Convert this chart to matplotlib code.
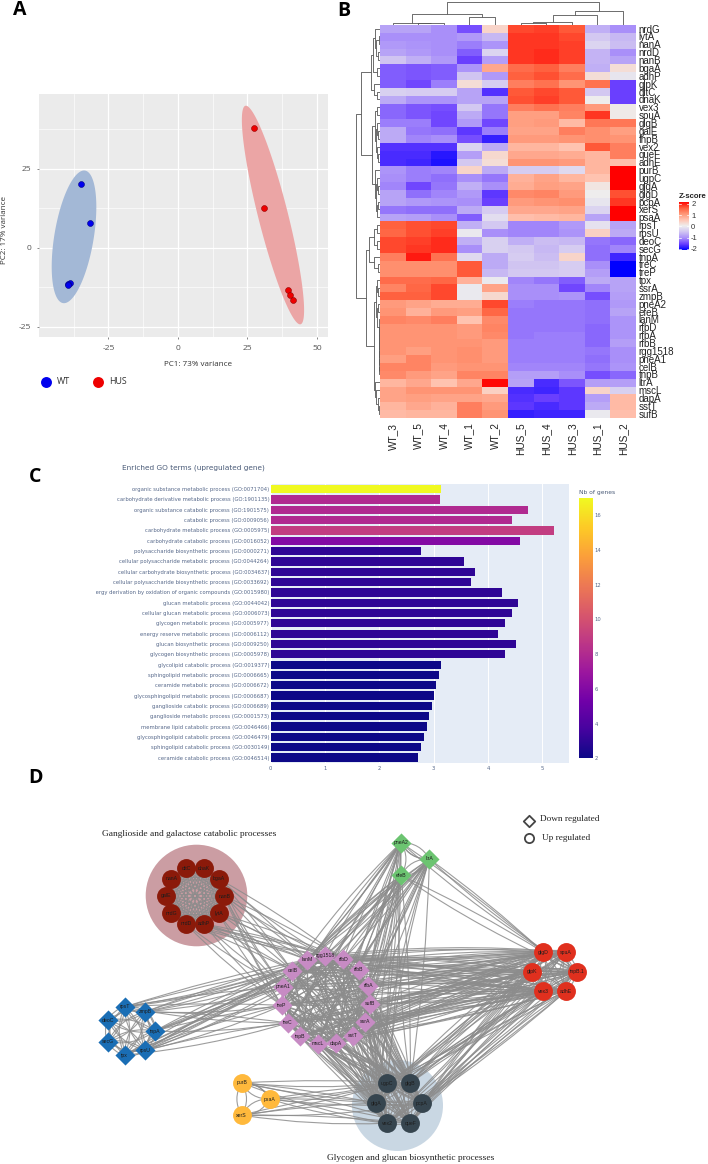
import numpy as np
import matplotlib
matplotlib.use('Agg')
import matplotlib.pyplot as plt
from matplotlib.cm import ScalarMappable
from matplotlib.collections import PathCollection
from matplotlib.colors import LinearSegmentedColormap, Normalize
from matplotlib.path import Path
from matplotlib.transforms import Bbox, TransformedBbox

W, H = 708, 1164

#----------------------
# A: PCA
wt_x = [-35.0, -31.6, -39.0, -39.4, -39.7]
wt_y = [20.2, 7.8, -11.0, -11.5, -11.8]
hus_x = [27.3, 31.1, 39.7, 40.5, 41.4]
hus_y = [37.8, 12.6, -13.2, -14.9, -16.5]
# centre x, centre y, half width, half height, x at top as share of half width
wt_ellipse = [-37.4, 3.5, 8.03, 21.0, 0.45]
hus_ellipse = [34.2, 10.4, 11.2, 34.6, -0.87]

#----------------------
# B: heatmap
heat_cols = ['WT_3', 'WT_5', 'WT_4', 'WT_1', 'WT_2', 'HUS_5', 'HUS_4', 'HUS_3', 'HUS_1', 'HUS_2']
heat_rows = ['nrdG', 'lytA', 'nanA', 'nrdD', 'nanB', 'bgaA', 'adhP', 'glpK', 'dltC', 'dnaK',
             'vex3', 'spuA', 'glgB', 'galE', 'fnpB', 'vex2', 'queF', 'adhE', 'purB', 'ugpC',
             'glgA', 'glgD', 'pcpA', 'xerS', 'psaA', 'rpsT', 'rpsU', 'deoC', 'secG', 'tnpA',
             'treC', 'treP', 'tpx', 'ssrA', 'zmpB', 'pneA2', 'efeB', 'lanM', 'rfbD', 'rfbA',
             'rfbB', 'rgg1518', 'pneA1', 'celB', 'tnpB', 'ltrA', 'mscL', 'dapA', 'sstT', 'sufB']
zscores = [
    [-0.8, -0.8, -1, -1.4, 0.3, 1.6, 1.65, 1.5, -0.7, -1],
    [-1, -1, -1, -0.9, -0.6, 1.7, 1.7, 1.6, -0.45, -0.6],
    [-0.9, -0.95, -1, -1.1, -0.95, 1.7, 1.7, 1.65, -0.3, -0.55],
    [-0.8, -0.9, -1, -1.3, -0.3, 1.7, 1.75, 1.65, -0.65, -1],
    [-0.5, -0.7, -0.9, -1.5, -0.85, 1.7, 1.75, 1.65, -0.65, -0.8],
    [-1.3, -1.35, -1.3, -0.95, 0.8, 1.35, 1.45, 1.2, -0.7, 0.2],
    [-1.3, -1.35, -1.3, -0.5, -0.9, 1.45, 1.55, 1.35, 0.2, -0.1],
    [-1.3, -1.45, -1.1, 0.2, -0.4, 1.2, 1.3, 1.0, 1.3, -1.5],
    [-0.35, -0.4, -0.4, -0.8, -1.6, 1.5, 1.6, 1.5, -0.45, -1.5],
    [-0.75, -0.95, -0.95, -0.8, -0.8, 1.55, 1.65, 1.5, 0, -1.5],
    [-1.25, -1.35, -1.4, -0.45, -1.15, 1.2, 1.3, 1.2, 0.95, 0.05],
    [-1.25, -1.35, -1.45, -0.75, -1.15, 0.9, 0.9, 1.15, 1.7, 0.05],
    [-1.1, -1.1, -1.45, -0.9, -1.45, 0.9, 0.95, 0.6, 1.25, 1.25],
    [-0.75, -1.15, -1.2, -1.55, -1.1, 0.85, 0.85, 1.2, 1.05, 0.9],
    [-0.75, -1.05, -1.0, -1.4, -1.75, 0.95, 0.95, 1.0, 1.05, 1.0],
    [-1.6, -1.6, -1.6, -0.3, -0.75, 0.65, 0.65, 0.5, 1.5, 1.2],
    [-1.65, -1.65, -1.8, -0.85, 0.25, 0.8, 0.8, 0.75, 0.65, 1.2],
    [-1.65, -1.7, -1.85, -0.45, 0.2, 1.0, 1.0, 0.95, 0.65, 0.55],
    [-0.95, -1.1, -1.05, 0.3, -0.75, -0.4, -0.4, -0.25, 0.65, 2],
    [-1.0, -1.1, -1.2, -1.0, -1.15, 0.7, 0.85, 0.65, 0.5, 2],
    [-1.05, -1.45, -1.15, -0.7, -1.0, 0.75, 0.9, 0.85, 0.1, 2],
    [-0.8, -1.2, -1.05, -0.9, -1.55, 1.1, 1.15, 0.95, 0, 1.55],
    [-0.8, -0.9, -0.95, -1.0, -1.5, 0.95, 1.0, 1.05, -0.1, 1.7],
    [-1.15, -1.2, -1.2, -0.75, -0.4, 0.8, 0.8, 0.85, -0.3, 2],
    [-0.8, -0.85, -1.0, -1.3, -0.2, 0.55, 0.6, 0.65, -0.8, 2],
    [1.45, 1.55, 1.6, -0.7, -0.45, -1.05, -1.05, -0.9, -0.15, -0.8],
    [1.4, 1.55, 1.65, -0.05, -1, -1.05, -1.05, -0.95, 0.35, -0.75],
    [1.6, 1.65, 1.75, -0.7, -0.35, -0.7, -0.55, -0.6, -1.15, -1.25],
    [1.6, 1.7, 1.75, -1.0, -0.35, -0.45, -0.6, -0.4, -1.2, -1.05],
    [1.2, 1.85, 1.3, -0.25, -0.75, -0.4, -0.55, 0.3, -1.2, -1.7],
    [1.05, 1.05, 1.05, 1.5, -0.75, -0.5, -0.5, -0.4, -1.0, -2],
    [1.05, 1.05, 1.05, 1.5, -0.6, -0.45, -0.45, -0.4, -0.85, -2],
    [1.35, 1.35, 1.4, 0.7, -0.05, -1.05, -1.15, -1.3, -0.75, -0.8],
    [1.15, 1.4, 1.6, -0.05, 0.85, -1.0, -1.0, -1.45, -1.05, -0.8],
    [1.45, 1.45, 1.6, -0.05, 0.25, -1.0, -1.0, -0.95, -1.4, -0.85],
    [0.95, 0.85, 0.75, 0.75, 1.6, -1.1, -1.15, -1.15, -1.2, -0.9],
    [1.0, 0.7, 0.95, 0.9, 1.4, -1.15, -1.15, -1.15, -1.2, -0.8],
    [1.15, 1.1, 1.2, 0.5, 1.1, -1.15, -1.15, -1.15, -1.2, -0.95],
    [1.0, 1.0, 1.0, 0.95, 1.15, -1.15, -1.15, -1.15, -1.25, -0.95],
    [1.0, 1.0, 1.0, 0.95, 1.1, -1.15, -1.1, -1.1, -1.25, -0.95],
    [1.0, 1.0, 1.0, 1.0, 0.95, -1.1, -1.1, -1.1, -1.25, -0.85],
    [1.0, 0.9, 1.0, 1.05, 0.95, -1.1, -1.1, -1.1, -1.15, -1.0],
    [0.9, 1.15, 1.0, 1.05, 0.95, -1.1, -1.1, -1.1, -1.2, -1.0],
    [1.15, 1.15, 0.95, 1.0, 1.0, -1.05, -1.05, -1.05, -1.15, -0.95],
    [1.1, 0.95, 0.85, 1.15, 1.15, -0.85, -0.85, -1.0, -1.4, -1.25],
    [0.65, 0.8, 0.5, 0.8, 1.95, -0.8, -1.65, -1.35, -0.85, -0.85],
    [0.85, 1.0, 1.0, 1.0, 0.35, -1.65, -1.7, -1.55, 0.3, -0.35],
    [0.85, 0.9, 0.85, 0.85, 0.8, -1.6, -1.5, -1.55, -0.85, 0.6],
    [0.65, 0.8, 0.7, 1.2, 0.95, -1.55, -1.65, -1.55, -0.75, 0.6],
    [0.6, 0.65, 0.65, 1.2, 1.0, -1.75, -1.7, -1.7, -0.05, 0.55],
]
# dendrograms: (height, left, right), ints are leaves
col_tree = (22.5, (10.7, (2.2, 0, (1.3, 1, 2)), (8, 3, 4)),
            (14, (10, (2.3, (1.3, 5, 6), 7), 8), 9))
row_a1 = (9.5, (7, (5.5, 0, (4, (1.5, 1, 2), (2, 3, 4))), (3, 5, 6)), (6.5, 7, (3, 8, 9)))
row_a2 = (8.5, (5, (2.8, 10, 11), (4, (2.8, 12, (1.8, 13, 14)), (3.3, 15, (1.8, 16, 17)))),
          (5.5, 18, (4.5, (3.4, 19, (2.5, 20, 21)), (3.5, (2.5, 22, 23), 24))))
row_b1 = (11, (6.5, (2.8, 25, 26), (2.8, 27, 28)), (6, 29, (1.8, 30, 31)))
row_b2 = (6, (4.5, (3.5, 32, (2, 33, 34)),
              (3, (1.8, 35, 36), (1.5, 37, (1.2, 38, (1, 39, (0.9, 40, (0.8, 41, (0.7, 42, (0.6, 43, 44))))))))),
          (5, 45, (4, 46, (2.5, 47, (1.5, 48, 49)))))
row_tree = (23.6, (19.5, row_a1, row_a2), (14, row_b1, row_b2))
heat_colors = ['#0000ff', '#6a3fff', '#a98ffa', '#d0c4f2', '#eeeeee',
               '#ffc4b2', '#ff9676', '#ff5c3a', '#ff0000']

#----------------------
# C: GO terms
go_terms = ['organic substance metabolic process (GO:0071704)',
            'carbohydrate derivative metabolic process (GO:1901135)',
            'organic substance catabolic process (GO:1901575)',
            'catabolic process (GO:0009056)',
            'carbohydrate metabolic process (GO:0005975)',
            'carbohydrate catabolic process (GO:0016052)',
            'polysaccharide biosynthetic process (GO:0000271)',
            'cellular polysaccharide metabolic process (GO:0044264)',
            'cellular carbohydrate biosynthetic process (GO:0034637)',
            'cellular polysaccharide biosynthetic process (GO:0033692)',
            'energy derivation by oxidation of organic compounds (GO:0015980)',
            'glucan metabolic process (GO:0044042)',
            'cellular glucan metabolic process (GO:0006073)',
            'glycogen metabolic process (GO:0005977)',
            'energy reserve metabolic process (GO:0006112)',
            'glucan biosynthetic process (GO:0009250)',
            'glycogen biosynthetic process (GO:0005978)',
            'glycolipid catabolic process (GO:0019377)',
            'sphingolipid metabolic process (GO:0006665)',
            'ceramide metabolic process (GO:0006672)',
            'glycosphingolipid metabolic process (GO:0006687)',
            'ganglioside catabolic process (GO:0006689)',
            'ganglioside metabolic process (GO:0001573)',
            'membrane lipid catabolic process (GO:0046466)',
            'glycosphingolipid catabolic process (GO:0046479)',
            'sphingolipid catabolic process (GO:0030149)',
            'ceramide catabolic process (GO:0046514)']
go_values = [3.14, 3.12, 4.73, 4.44, 5.21, 4.59, 2.77, 3.55, 3.76, 3.68, 4.25, 4.55, 4.45, 4.32,
             4.19, 4.52, 4.32, 3.14, 3.09, 3.05, 3.01, 2.96, 2.92, 2.87, 2.82, 2.77, 2.71]
go_counts = [17, 8, 8, 8, 9, 6, 3, 3, 3, 3, 3, 3, 3, 3, 3, 3, 3, 2, 2, 2, 2, 2, 2, 2, 2, 2, 2]
plasma_stops = ['#0d0887', '#46039f', '#7201a8', '#9c179e', '#bd3786',
                '#d8576b', '#ed7953', '#fb9f3a', '#fdca26', '#f0f921']

#----------------------
# D: network modules, nodes listed anticlockwise from the start angle
brown_nodes = ['nanB', 'bgaA', 'dnaK', 'dltC', 'nanA', 'galE', 'nrdG', 'nrdD', 'adhP', 'lytA']
hub_nodes = ['rgg1518', 'lanM', 'celB', 'pneA1', 'treP', 'treC', 'tnpB', 'mscL', 'dapA', 'sstT',
             'ssrA', 'sufB', 'rfbA', 'rfbB', 'rfbD']
green_nodes = ['ltrA', 'pneA2', 'efeB']
red_nodes = ['tnpB.1', 'spuA', 'glgD', 'glpK', 'vex3', 'adhE']
blue_nodes = ['tnpA', 'zmpB', 'rpsT', 'deoC', 'secG', 'tpx', 'rpsU']
yellow_nodes = ['psaA', 'purB', 'xerS']
dark_nodes = ['pcpA', 'glgB', 'ugpC', 'glgA', 'vex2', 'queF']
module_nodes = [brown_nodes, hub_nodes, green_nodes, red_nodes, blue_nodes, yellow_nodes, dark_nodes]
module_cx = [195, 326, 410.5, 554.5, 130, 251, 398.7]
module_cy = [896, 1000, 859, 971.7, 1031, 1099, 1103.3]
module_radius = [29.3, 44.5, 18.9, 22.7, 24.7, 18.6, 23]
module_start = [0, 91, 0, 0, 0, 0, 0]
module_curve = [0.06, 0.08, 0.3, 0.15, 0.22, 0.3, 0.1]
module_colors = ['#8b1a0a', '#c78bc4', '#6cc471', '#e0301e', '#1a6eb5', '#ffb93c', '#36454f']
module_markers = ['o', 'D', 'D', 'o', 'D', 'o', 'o']
halo_cx = [196, 397.3]
halo_cy = [894.7, 1104.5]
halo_radius = [50.8, 45.5]
halo_colors = ['#cb9da3', '#c9d7e3']
# edges between modules: source names, target names
links = [
    (['nanB', 'lytA', 'adhP', 'bgaA', 'nrdD'], ['lanM', 'rgg1518', 'celB', 'pneA1', 'rfbD', 'treP']),
    (green_nodes, hub_nodes),
    (green_nodes, ['ugpC', 'glgB', 'glgA']),
    (green_nodes, ['glgD', 'tnpB.1']),
    (red_nodes, hub_nodes),
    (red_nodes, dark_nodes),
    (['rpsT', 'zmpB', 'tnpA', 'rpsU', 'tpx'], ['lanM', 'celB', 'pneA1', 'rgg1518', 'rfbD', 'treC', 'treP']),
    (yellow_nodes, dark_nodes),
    (dark_nodes, hub_nodes),
]
outer_arcs = [('ltrA', 'pneA2'), ('tnpB.1', 'spuA'), ('nanB', 'bgaA'), ('zmpB', 'tnpA'), ('purB', 'psaA')]
#----------------------


def px_axes(x0, y0, x1, y1):
    return fig.add_axes([x0 / W, 1 - y1 / H, (x1 - x0) / W, (y1 - y0) / H])


def draw_tree(ax, node, horizontal):
    # returns (leaf position, height) of a node
    if not isinstance(node, tuple):
        return node + 0.5, 0
    h, left, right = node
    p1, h1 = draw_tree(ax, left, horizontal)
    p2, h2 = draw_tree(ax, right, horizontal)
    a, b = [p1, p1, p2, p2], [h1, h, h, h2]
    if horizontal:
        ax.plot(a, b, color='#555555', lw=0.6, solid_capstyle='butt')
    else:
        ax.plot(b, a, color='#555555', lw=0.6, solid_capstyle='butt')
    return (p1 + p2) / 2, h


plt.rcParams['font.family'] = ['Liberation Sans', 'DejaVu Sans']
plt.rcParams['axes.unicode_minus'] = False
fig = plt.figure(figsize=(W / 100, H / 100), dpi=100)

# A
ax = px_axes(39, 94, 328, 337)
ax.set_facecolor('#ebebeb')
ax.set_xlim(-50, 54)
ax.set_ylim(-28.2, 48.7)
ax.set_xticks([-25, 0, 25, 50])
ax.set_yticks([-25, 0, 25])
ax.set_xticks([-37.5, -12.5, 12.5, 37.5], minor=True)
ax.set_yticks([-12.5, 12.5, 37.5], minor=True)
ax.grid(which='major', color='white', lw=0.9)
ax.grid(which='minor', color='white', lw=0.45)
ax.set_axisbelow(True)
for s in ax.spines.values():
    s.set_visible(False)
ax.tick_params(which='minor', length=0)
ax.tick_params(which='major', length=1.5, width=0.5, color='#555555', labelcolor='#555555',
               labelsize=6.1, pad=4)
for lab in ax.get_xticklabels() + ax.get_yticklabels():
    lab.set_family('Open Sans')
t = np.linspace(0, 2 * np.pi, 200)
for e, col in [(wt_ellipse, '#a3b8d6'), (hus_ellipse, '#eba5a5')]:
    phi = np.arccos(e[4])
    ax.fill(e[0] + e[2] * np.cos(t + phi), e[1] + e[3] * np.cos(t), color=col, lw=0)
ax.scatter(wt_x, wt_y, s=18, c='#0000ee', edgecolors='#000080', linewidths=0.4, zorder=3)
ax.scatter(hus_x, hus_y, s=18, c='#ee0000', edgecolors='#900000', linewidths=0.4, zorder=3)

# B
hx0, hy0, hx1, hy1 = 380, 24.7, 635.7, 417.7
ax = px_axes(hx0, hy0, hx1, hy1)
heat_cmap = LinearSegmentedColormap.from_list('zs', heat_colors)
ax.imshow(np.array(zscores), cmap=heat_cmap, vmin=-2, vmax=2, aspect='auto', interpolation='nearest')
ax.set_xticks(range(len(heat_cols)), heat_cols, rotation=90, fontsize=7.3, color='#222222')
ax.yaxis.tick_right()
ax.set_yticks(range(len(heat_rows)), heat_rows, fontsize=7, color='#222222')
ax.tick_params(length=0, pad=2)
ax.tick_params(axis='x', pad=3.5)
for s in ax.spines.values():
    s.set_visible(False)

ax = px_axes(hx0, 0.5, hx1, hy0)
ax.set_xlim(0, 10)
ax.set_ylim(0, 24.2)
ax.axis('off')
draw_tree(ax, col_tree, True)
ax = px_axes(355.5, hy0, hx0, hy1)
ax.set_xlim(24.5, 0)
ax.set_ylim(50, 0)
ax.axis('off')
draw_tree(ax, row_tree, False)

# Z-score key
cax = px_axes(679, 201.7, 689, 250)
cb = fig.colorbar(ScalarMappable(Normalize(-2.1, 2.2), heat_cmap), cax=cax)
cb.outline.set_visible(False)
cb.set_ticks([-2, -1, 0, 1, 2], labels=['-2', '-1', '0', '1', '2'])
cax.tick_params(length=0, labelsize=5.5, pad=1.5, labelcolor='#333333')
for v in [-2, -1, 0, 1, 2]:
    cax.axhline(v, xmin=0, xmax=0.2, color='white', lw=0.5)
    cax.axhline(v, xmin=0.8, xmax=1, color='white', lw=0.5)
fig.text(679 / W, 1 - 196 / H, 'Z-score', fontsize=5.6, fontweight='bold', va='center', color='#222222')

# C
ax = px_axes(270.7, 484, 569, 762.7)
ax.set_facecolor('#e5ecf6')
plasma = LinearSegmentedColormap.from_list('plasma_px', plasma_stops)
go_norm = Normalize(2, 17)
ypos = np.arange(len(go_terms))
ax.barh(ypos, go_values, height=0.8, color=plasma(go_norm(go_counts)), zorder=3)
ax.set_xlim(0, 5.49)
ax.set_ylim(len(go_terms) - 0.5, -0.5)
ax.set_yticks(ypos, go_terms)
ax.set_xticks(range(6))
ax.grid(axis='x', color='white', lw=0.7, zorder=1)
ax.set_axisbelow(True)
ax.tick_params(length=0, labelsize=3.77, labelcolor='#56688a', labelfontfamily='DejaVu Sans', pad=1)
ax.tick_params(axis='x', pad=2.5)
for s in ax.spines.values():
    s.set_visible(False)
clip = TransformedBbox(Bbox([[96 / W, 0], [1, 1]]), fig.transFigure)
for lab in ax.get_yticklabels():
    lab.set_clip_box(clip)
    lab.set_clip_on(True)
fig.text(122 / W, 1 - 468 / H, 'Enriched GO terms (upregulated gene)', fontsize=5.3, color='#4a5b78',
         va='center', family='DejaVu Sans')
cax = px_axes(579.3, 498, 592.7, 758.3)
cb = fig.colorbar(ScalarMappable(go_norm, plasma), cax=cax)
cb.outline.set_visible(False)
cb.set_ticks(range(2, 17, 2))
cax.tick_params(length=0, labelsize=3.8, labelcolor='#56688a', labelfontfamily='DejaVu Sans', pad=1.2)
fig.text(579 / W, 1 - 492 / H, 'Nb of genes', fontsize=4.3, color='#4a5b78', va='center', family='DejaVu Sans')

# overlay in pixel coordinates for the network, legends and letters
pix = fig.add_axes([0, 0, 1, 1], facecolor='none')
pix.set_xlim(0, W)
pix.set_ylim(H, 0)
pix.axis('off')

pos = {}
for m, names in enumerate(module_nodes):
    for k, name in enumerate(names):
        a = np.deg2rad(module_start[m] + 360 * k / len(names))
        pos[name] = (module_cx[m] + module_radius[m] * np.cos(a),
                     module_cy[m] - module_radius[m] * np.sin(a))

paths = []


def add_edge(n1, n2, curv):
    p, q = np.array(pos[n1]), np.array(pos[n2])
    d = q - p
    c = (p + q) / 2 + curv * np.array([-d[1], d[0]])
    paths.append(Path([p, c, q], [Path.MOVETO, Path.CURVE3, Path.CURVE3]))


for c, col, r, hc in zip(halo_cx, halo_cy, halo_radius, halo_colors):
    pix.scatter([c], [col], s=(2 * r * 0.72) ** 2, c=hc, linewidths=0, zorder=1)

count = 0
for m, names in enumerate(module_nodes):
    for i, a in enumerate(names):
        for b in names[i + 1:]:
            count += 1
            add_edge(a, b, module_curve[m] if count % 2 else -module_curve[m])
            if len(names) < 11:
                add_edge(a, b, -module_curve[m] if count % 2 else module_curve[m])
for src, dst in links:
    for a in src:
        for b in dst:
            count += 1
            add_edge(a, b, 0.05 if count % 2 else -0.03)
for a, b in outer_arcs:
    add_edge(a, b, -0.32)
pix.add_collection(PathCollection(paths, facecolors='none', edgecolors='#8c8c8c', linewidths=0.8,
                                  alpha=0.85, transform=pix.transData, zorder=2))

for m, names in enumerate(module_nodes):
    xs = [pos[n][0] for n in names]
    ys = [pos[n][1] for n in names]
    pix.scatter(xs, ys, s=185 if module_markers[m] == 'o' else 105, c=module_colors[m],
                marker=module_markers[m], linewidths=0, zorder=3)
    for n, x, y in zip(names, xs, ys):
        pix.text(x, y, n, fontsize=3.7, ha='center', va='center', color='#1d1d1d', zorder=4)

pix.text(102, 834, 'Ganglioside and galactose catabolic processes', fontsize=6.75, family='Liberation Serif',
         va='center', color='#222222')
pix.text(327, 1158, 'Glycogen and glucan biosynthetic processes', fontsize=6.75, family='Liberation Serif',
         va='center', color='#222222')
pix.text(540, 819, 'Down regulated', fontsize=6.7, family='Liberation Serif', va='center', color='#222222')
pix.text(542, 837.7, 'Up regulated', fontsize=6.7, family='Liberation Serif', va='center', color='#222222')
pix.scatter([529], [820.7], s=34, marker='D', facecolors='white', edgecolors='#444444', linewidths=1.3)
pix.scatter([529], [837.7], s=44, marker='o', facecolors='white', edgecolors='#444444', linewidths=1.3)

# PCA legend and axis titles
pix.scatter([46], [382], s=62, c='#0000ee', linewidths=0)
pix.scatter([98], [382], s=62, c='#ee0000', linewidths=0)
pix.text(57, 382, 'WT', fontsize=6.4, family='Open Sans', va='center', color='#333333')
pix.text(109, 382, 'HUS', fontsize=6.4, family='Open Sans', va='center', color='#333333')
pix.text(197.5, 364, 'PC1: 73% variance', fontsize=5.8, family='Open Sans', ha='center', va='center', color='#333333')
pix.text(4.5, 230, 'PC2: 17% variance', fontsize=5.8, family='Open Sans', rotation=90, ha='center', va='center',
         color='#333333')

for letter, x, y in [('A', 20, 10), ('B', 344, 11), ('C', 35, 477), ('D', 35, 778)]:
    pix.text(x, y, letter, fontsize=14, fontweight='bold', family='Open Sans', ha='center', va='center', color='black')

fig.savefig('out.png', dpi=100)
